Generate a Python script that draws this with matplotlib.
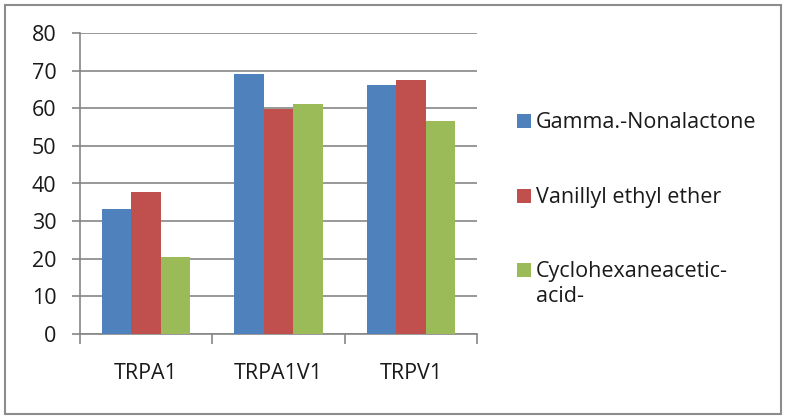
import matplotlib
matplotlib.use("Agg")
import matplotlib.pyplot as plt
from matplotlib.patches import Rectangle
import numpy as np

categories = ["TRPA1", "TRPA1V1", "TRPV1"]
series_names = ["Gamma.-Nonalactone", "Vanillyl ethyl ether", "Cyclohexaneacetic-\nacid-"]
gamma_nonalactone = [33.2, 69.1, 66.2]
vanillyl_ethyl_ether = [37.8, 59.8, 67.4]
cyclohexaneacetic_acid = [20.4, 61.2, 56.5]
colors = ["#4F81BD", "#C0504D", "#9BBB59"]

plt.rcParams['font.family'] = ['Open Sans', 'DejaVu Sans']
FS = 15.5
TXT = '#1a1a1a'

W, H = 788, 419
fig = plt.figure(figsize=(W/100, H/100), dpi=100)
ax = fig.add_axes([80/W, 1-334/H, 397/W, 301/H])

x = np.arange(len(categories))
bw = 0.222
data = [gamma_nonalactone, vanillyl_ethyl_ether, cyclohexaneacetic_acid]
for i, (vals, c) in enumerate(zip(data, colors)):
    ax.bar(x + (i-1)*bw, vals, width=bw, color=c, zorder=3)

ax.set_xlim(-0.5, 2.5)
ax.set_ylim(0, 80)
ax.set_yticks(range(0, 81, 10))
ax.yaxis.grid(True, color="#868686", linewidth=1.2, zorder=0)
ax.set_xticks(x)
ax.set_xticklabels(categories)
ax.set_xticks([-0.5, 0.5, 1.5, 2.5], minor=True)
ax.tick_params(axis='x', which='major', length=0, pad=21, labelsize=FS, colors=TXT)
ax.tick_params(axis='x', which='minor', length=7, width=1.2, color='#868686')
ax.tick_params(axis='y', length=6, width=1.2, color='#868686', pad=11, labelsize=FS, labelcolor=TXT)
for s in ['top', 'right']:
    ax.spines[s].set_visible(False)
for s in ['left', 'bottom']:
    ax.spines[s].set_color('#868686')
    ax.spines[s].set_linewidth(1.2)

# legend (manual, first line aligned with the colour square)
rows_y = [121, 196, 270]
for name, c, yy in zip(series_names, colors, rows_y):
    fig.patches.append(Rectangle((517/W, 1-(yy+7)/H), 14/W, 14/H, transform=fig.transFigure,
                                 facecolor=c, edgecolor='none'))
    fig.text(536/W, 1-(yy-9)/H, name, fontsize=FS, color=TXT, va='top', ha='left',
             linespacing=1.25)

fig.patches.append(Rectangle((4.5/W, 1-414/H), 776.5/W, 409/H, transform=fig.transFigure,
                             fill=False, edgecolor='#8c8c8c', linewidth=1.5))

fig.savefig("out.png", dpi=100)
